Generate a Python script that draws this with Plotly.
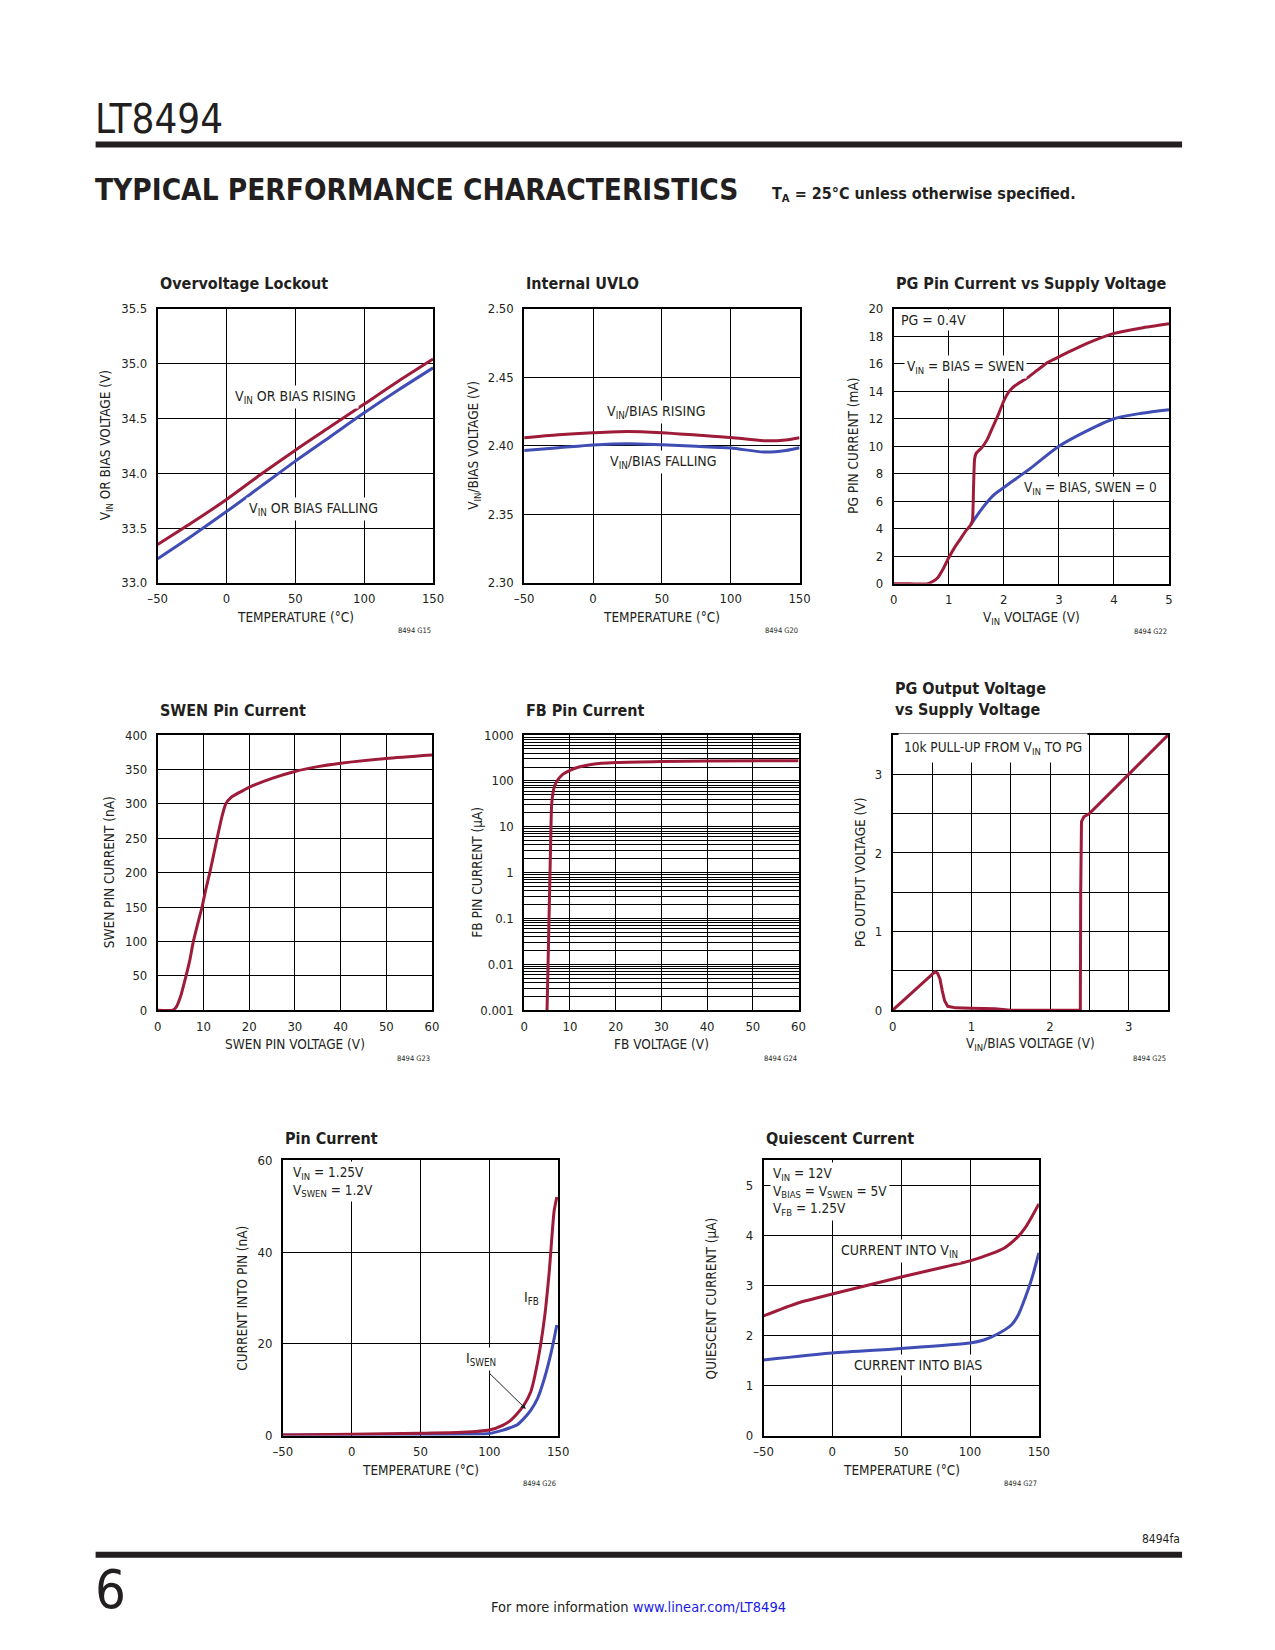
import plotly.graph_objects as go

W, H = 1259, 1634
# measured mapping from figure pixels to the photographed page (scale and offset)
SX, OX = 0.982, 17.5
SY, OY = 0.990, 14.6
RED = "#9E1B3A"
BLUE = "#3F4DB5"
FONT = "Liberation Sans Narrow, DejaVu Sans Condensed, Arial Narrow, sans-serif"

# ---------------- data ----------------
temp_ticks = [-50, 0, 50, 100, 150]
temp_ticktext = ["–50", "0", "50", "100", "150"]

# Overvoltage Lockout
ovl_temp = [-50, -25, 0, 25, 50, 75, 100, 125, 150]
ovl_rise = [33.35, 33.55, 33.76, 33.99, 34.21, 34.42, 34.63, 34.84, 35.04]
ovl_fall = [33.22, 33.43, 33.65, 33.88, 34.11, 34.33, 34.55, 34.76, 34.96]

# Internal UVLO
uvlo_temp = [-50, -25, 0, 25, 50, 75, 100, 125, 140, 150]
uvlo_rise = [2.4058, 2.4080, 2.4095, 2.4104, 2.4095, 2.4078, 2.4060, 2.4036, 2.4042, 2.4058]
uvlo_fall = [2.3966, 2.3985, 2.4005, 2.4015, 2.4007, 2.3996, 2.3983, 2.3954, 2.3965, 2.3985]

# PG Pin Current vs Supply Voltage
pg_v_red = [0, 0.3, 0.6, 0.7, 0.8, 0.9, 1.0, 1.1, 1.2, 1.3, 1.4, 1.43, 1.45, 1.47, 1.5,
            1.6, 1.7, 1.8, 1.9, 2.0, 2.1, 2.2, 2.4, 2.6, 2.8, 3.0, 3.5, 4.0, 4.5, 5.0]
pg_i_red = [0, 0, 0, 0.15, 0.45, 1.1, 1.9, 2.6, 3.2, 3.8, 4.3, 4.6, 7.0, 9.1, 9.5,
            9.9, 10.5, 11.4, 12.3, 13.3, 14.0, 14.4, 14.9, 15.5, 16.1, 16.5, 17.45, 18.2, 18.6, 18.9]
pg_v_blue = [1.4, 1.6, 1.8, 2.0, 2.5, 3.0, 3.5, 4.0, 4.5, 5.0]
pg_i_blue = [4.3, 5.45, 6.4, 7.0, 8.45, 10.0, 11.1, 12.0, 12.4, 12.66]

# SWEN Pin Current
swen_v = [0, 3.3, 4, 5, 6.2, 7, 7.8, 9, 9.7, 10.5, 11.4, 12.2, 13, 14, 14.9, 16, 18, 20, 25, 30, 35, 40, 50, 60]
swen_i = [0, 0, 4, 20, 50, 72, 100, 132, 150, 175, 200, 225, 250, 280, 300, 309, 317, 324, 337, 347, 354, 359, 366, 371]

# FB Pin Current
fb_v = [5.0, 5.2, 5.4, 5.6, 5.8, 6.0, 6.3, 6.7, 7.5, 8.5, 10, 12, 15, 20, 30, 40, 60]
fb_i = [0.001, 0.008, 0.07, 0.6, 5, 30, 55, 80, 110, 140, 170, 200, 230, 250, 265, 270, 275]

# PG Output Voltage vs Supply Voltage
pgo_v = [0, 0.25, 0.5, 0.54, 0.57, 0.6, 0.63, 0.66, 0.7, 0.8, 1.0, 1.3, 1.5, 2.0,
         2.385, 2.39, 2.40, 2.43, 2.5, 3.0, 3.5]
pgo_out = [0, 0.23, 0.46, 0.49, 0.47, 0.40, 0.25, 0.12, 0.05, 0.03, 0.025, 0.02, 0.0, 0.0,
           0.0, 1.5, 2.40, 2.46, 2.5, 3.0, 3.5]

# Pin Current
pin_temp_fb = [-50, 0, 50, 80, 100, 110, 115, 120, 125, 130, 135, 140, 143.5, 147, 149]
pin_ifb = [0.15, 0.3, 0.5, 0.7, 1.2, 2.3, 3.2, 4.7, 6.6, 9.5, 16.0, 25.6, 35.8, 48.9, 52.0]
pin_temp_sw = [-50, 0, 50, 80, 100, 110, 115, 120, 125, 130, 135, 140, 145, 149]
pin_iswen = [0.1, 0.15, 0.2, 0.3, 0.45, 1.2, 1.7, 2.3, 3.7, 5.5, 8.1, 12.5, 18.3, 24.1]

# Quiescent Current
q_temp_vin = [-50, -25, 0, 25, 50, 75, 100, 115, 125, 135, 140, 145, 150]
q_vin = [2.39, 2.65, 2.83, 3.0, 3.17, 3.33, 3.49, 3.63, 3.75, 3.98, 4.15, 4.38, 4.63]
q_temp_bias = [-50, 0, 50, 100, 110, 120, 130, 135, 140, 145, 150]
q_bias = [1.51, 1.65, 1.74, 1.85, 1.91, 2.03, 2.21, 2.41, 2.75, 3.15, 3.65]

# ---------------- layout helpers ----------------
# plot rectangles in page pixels: left, top, right, bottom
boxes = {
    1: (157, 308, 432, 582),
    2: (523, 308, 798, 582),
    3: (892, 308, 1167, 583),
    4: (157, 734, 431, 1009),
    5: (523, 734, 797, 1009),
    6: (891, 734, 1166, 1009),
    7: (282, 1159, 557, 1434),
    8: (762, 1159, 1037, 1434),
}


def px(x):
    return ((x - OX) / SX) / W


def py(y):
    return 1 - ((y - OY) / SY) / H


fig = go.Figure()
layout = dict(
    width=W, height=H, margin=dict(l=0, r=0, t=0, b=0),
    paper_bgcolor="white", plot_bgcolor="white", showlegend=False,
    font=dict(family=FONT, size=14, color="#231F20"),
)

common = dict(showgrid=True, gridcolor="black", gridwidth=1, showline=True,
              linecolor="black", linewidth=1.6, mirror=True, zeroline=False,
              ticks="", tickfont=dict(family=FONT, size=13, color="#231F20"),
              tickmode="array", fixedrange=True)


def add_axes(n, xr, xtv, xtt, yr, ytv, ytt, ylog=False):
    l, t, r, b = boxes[n]
    sfx = "" if n == 1 else str(n)
    xa = dict(common, domain=[px(l), px(r)], range=xr, tickvals=xtv, ticktext=xtt,
              anchor="y" + sfx, ticklabelstandoff=3)
    ya = dict(common, domain=[py(b), py(t)], range=yr, tickvals=ytv, ticktext=ytt,
              anchor="x" + sfx, ticklabelstandoff=6)
    if ylog:
        ya["type"] = "log"
        ya["minor"] = dict(showgrid=True, gridcolor="black", gridwidth=0.8, dtick="D1", ticks="")
    layout["xaxis" + sfx] = xa
    layout["yaxis" + sfx] = ya


add_axes(1, [-50, 150], temp_ticks, temp_ticktext, [33.0, 35.5],
         [33.0, 33.5, 34.0, 34.5, 35.0, 35.5], ["33.0", "33.5", "34.0", "34.5", "35.0", "35.5"])
add_axes(2, [-50, 150], temp_ticks, temp_ticktext, [2.30, 2.50],
         [2.30, 2.35, 2.40, 2.45, 2.50], ["2.30", "2.35", "2.40", "2.45", "2.50"])
add_axes(3, [0, 5], [0, 1, 2, 3, 4, 5], ["0", "1", "2", "3", "4", "5"], [0, 20],
         list(range(0, 21, 2)), [str(v) for v in range(0, 21, 2)])
add_axes(4, [0, 60], list(range(0, 61, 10)), [str(v) for v in range(0, 61, 10)], [0, 400],
         list(range(0, 401, 50)), [str(v) for v in range(0, 401, 50)])
add_axes(5, [0, 60], list(range(0, 61, 10)), [str(v) for v in range(0, 61, 10)], [-3, 3],
         [0.001, 0.01, 0.1, 1, 10, 100, 1000], ["0.001", "0.01", "0.1", "1", "10", "100", "1000"],
         ylog=True)
half = [0, 0.5, 1, 1.5, 2, 2.5, 3, 3.5]
half_txt = ["0", "", "1", "", "2", "", "3", ""]
add_axes(6, [0, 3.5], half, half_txt, [0, 3.5], half, half_txt)
add_axes(7, [-50, 150], temp_ticks, temp_ticktext, [0, 60], [0, 20, 40, 60], ["0", "20", "40", "60"])
add_axes(8, [-50, 150], temp_ticks, temp_ticktext, [0, 5.5], [0, 1, 2, 3, 4, 5],
         ["0", "1", "2", "3", "4", "5"])


def line(n, x, y, color, shape="spline", smooth=0.8):
    sfx = "" if n == 1 else str(n)
    ln = dict(color=color, width=3)
    if shape == "spline":
        ln.update(shape="spline", smoothing=smooth)
    fig.add_trace(go.Scatter(x=x, y=y, mode="lines", line=ln, hoverinfo="skip",
                             xaxis="x" + sfx, yaxis="y" + sfx))


line(1, ovl_temp, ovl_fall, BLUE)
line(1, ovl_temp, ovl_rise, RED)
line(2, uvlo_temp, uvlo_fall, BLUE)
line(2, uvlo_temp, uvlo_rise, RED)
line(3, pg_v_blue, pg_i_blue, BLUE)
line(3, pg_v_red, pg_i_red, RED, smooth=0.5)
line(4, swen_v, swen_i, RED, smooth=0.6)
line(5, fb_v, fb_i, RED, smooth=0.6)
line(6, pgo_v, pgo_out, RED, shape="linear")
line(7, pin_temp_sw, pin_iswen, BLUE, smooth=0.6)
line(7, pin_temp_fb, pin_ifb, RED, smooth=0.6)
line(8, q_temp_bias, q_bias, BLUE, smooth=0.6)
line(8, q_temp_vin, q_vin, RED, smooth=0.6)

ann = []


def page_text(x, y, text, size, xanchor="left", yanchor="middle", color="#231F20",
              family=FONT, angle=0):
    ann.append(dict(xref="paper", yref="paper", x=px(x), y=py(y), text=text,
                    showarrow=False, xanchor=xanchor, yanchor=yanchor, textangle=angle,
                    font=dict(family=family, size=size, color=color), align="left"))


def data_text(n, x, y, text, xanchor="center", size=14, bg="white", pad=2):
    sfx = "" if n == 1 else str(n)
    ann.append(dict(xref="x" + sfx, yref="y" + sfx, x=x, y=y, text=text, showarrow=False,
                    xanchor=xanchor, yanchor="middle", bgcolor=bg, borderpad=pad,
                    font=dict(family=FONT, size=size, color="#231F20"), align="left"))


# chart titles, axis titles and figure ids
titles = {
    1: ("Overvoltage Lockout", 283),
    2: ("Internal UVLO", 283),
    3: ("PG Pin Current vs Supply Voltage", 283),
    4: ("SWEN Pin Current", 710),
    5: ("FB Pin Current", 710),
    6: ("PG Output Voltage<br>vs Supply Voltage", 698),
    7: ("Pin Current", 1137),
    8: ("Quiescent Current", 1137),
}
xtitles = {
    1: "TEMPERATURE (°C)", 2: "TEMPERATURE (°C)", 3: "V<sub>IN</sub> VOLTAGE (V)",
    4: "SWEN PIN VOLTAGE (V)", 5: "FB VOLTAGE (V)", 6: "V<sub>IN</sub>/BIAS VOLTAGE (V)",
    7: "TEMPERATURE (°C)", 8: "TEMPERATURE (°C)",
}
ytitles = {
    1: ("V<sub>IN</sub> OR BIAS VOLTAGE (V)", 52), 2: ("V<sub>IN</sub>/BIAS VOLTAGE (V)", 50),
    3: ("PG PIN CURRENT (mA)", 40), 4: ("SWEN PIN CURRENT (nA)", 49),
    5: ("FB PIN CURRENT (µA)", 48), 6: ("PG OUTPUT VOLTAGE (V)", 33),
    7: ("CURRENT INTO PIN (nA)", 41), 8: ("QUIESCENT CURRENT (µA)", 52),
}
ids = {1: "8494 G15", 2: "8494 G20", 3: "8494 G22", 4: "8494 G23",
       5: "8494 G24", 6: "8494 G25", 7: "8494 G26", 8: "8494 G27"}

for n, (l, t, r, b) in boxes.items():
    ttl, ty = titles[n]
    page_text(l, ty, "<b>" + ttl + "</b>", 16)
    page_text((l + r) / 2, b + 34, xtitles[n], 13.5, xanchor="center")
    yt, off = ytitles[n]
    page_text(l - off, (t + b) / 2, yt, 13.5, xanchor="center", angle=-90)
    page_text(r, b + 48, ids[n], 7.5, xanchor="right")

# in-plot labels
data_text(1, 50, 34.69, "V<sub>IN</sub> OR BIAS RISING")
data_text(1, 63.5, 33.67, "V<sub>IN</sub> OR BIAS FALLING")
data_text(2, 45.5, 2.4248, "V<sub>IN</sub>/BIAS RISING")
data_text(2, 51.3, 2.3879, "V<sub>IN</sub>/BIAS FALLING")
data_text(3, 0.08, 19.15, "PG = 0.4V", xanchor="left")
data_text(3, 1.31, 15.75, "V<sub>IN</sub> = BIAS = SWEN", size=13.5)
data_text(3, 3.58, 7.0, "V<sub>IN</sub> = BIAS, SWEN = 0", size=13.5)
data_text(6, 0.07, 3.33, "10k PULL-UP FROM V<sub>IN</sub> TO PG", xanchor="left", size=13.5, pad=5)
data_text(7, -45, 55.3, "V<sub>IN</sub> = 1.25V<br>V<sub>SWEN</sub> = 1.2V", xanchor="left", size=13.5)
data_text(7, 130.4, 30.0, "I<sub>FB</sub>")
data_text(7, 94.2, 16.8, "I<sub>SWEN</sub>")
ann.append(dict(xref="x7", yref="y7", axref="x7", ayref="y7", x=126.5, y=5.8, ax=99, ay=13.9,
                text="", showarrow=True, arrowhead=2, arrowsize=1, arrowwidth=1,
                arrowcolor="#231F20"))
data_text(8, -45, 4.88, "V<sub>IN</sub> = 12V<br>V<sub>BIAS</sub> = V<sub>SWEN</sub> = 5V<br>V<sub>FB</sub> = 1.25V",
          xanchor="left", size=13.5)
data_text(8, 48.9, 3.69, "CURRENT INTO V<sub>IN</sub>")
data_text(8, 62, 1.41, "CURRENT INTO BIAS")

# page header / footer
page_text(92, 119, "LT8494", 40)
page_text(92, 189, "<b>TYPICAL PERFORMANCE CHARACTERISTICS</b>", 29.5)
page_text(768, 194, "<b>T<sub>A</sub> = 25°C unless otherwise specified.</b>", 16)
page_text(1180, 1537, "8494fa", 12, xanchor="right")
page_text(92, 1588, "6", 54)
page_text(637, 1605, "For more information <span style='color:#1A1AE6'>www.linear.com/LT8494</span>",
          14.5, xanchor="center")

layout["annotations"] = ann
layout["shapes"] = [
    dict(type="rect", xref="paper", yref="paper", x0=px(95), x1=px(1180), y0=py(147), y1=py(141),
         fillcolor="#231F20", line=dict(width=0), layer="above"),
    dict(type="rect", xref="paper", yref="paper", x0=px(95), x1=px(1180), y0=py(1556), y1=py(1550),
         fillcolor="#231F20", line=dict(width=0), layer="above"),
]

fig.update_layout(**layout)
fig.write_html("out.html")
